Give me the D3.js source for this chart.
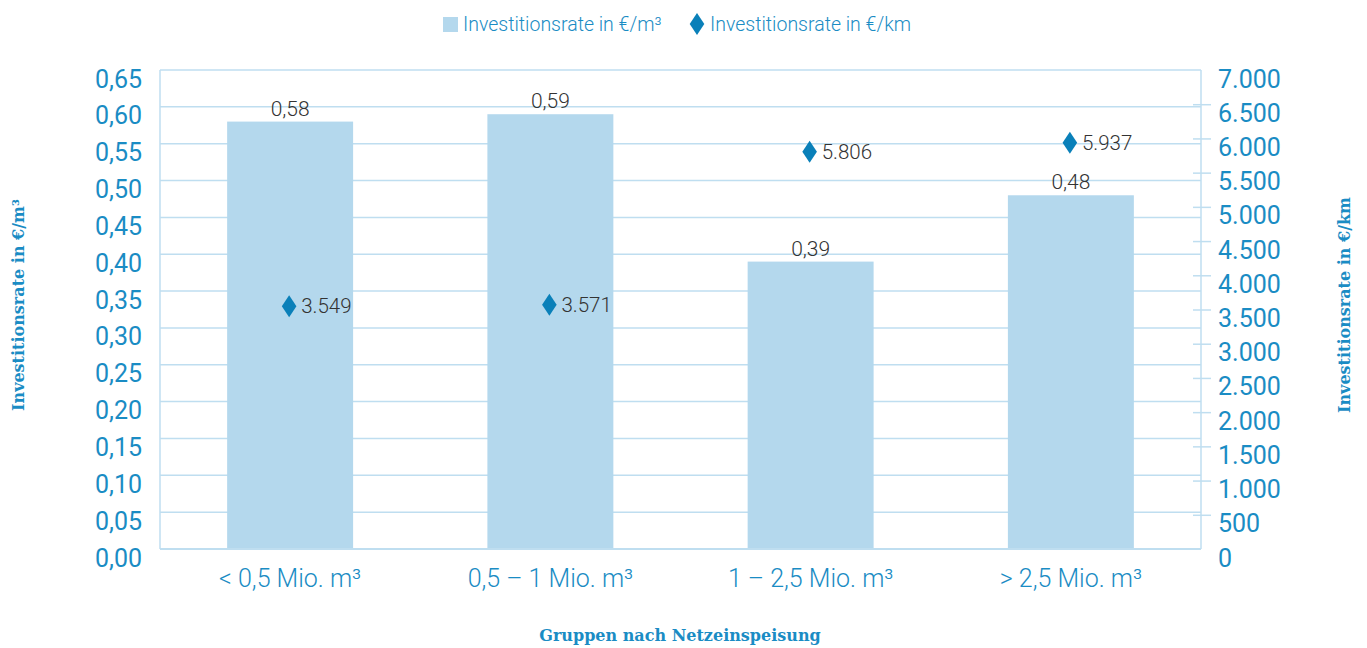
<!DOCTYPE html>
<html>
<head>
<meta charset="utf-8">
<script src="https://cdn.jsdelivr.net/npm/d3@7"></script>
<style>
  body { margin: 0; background: #fff; }
  svg { display: block; }
</style>
</head>
<body>
<div id="chart"></div>
<script>
// chart data
const groups = ["< 0,5 Mio. m³", "0,5 – 1  Mio. m³", "1 – 2,5 Mio. m³", "> 2,5 Mio. m³"];
const ratePerM3 = [0.58, 0.59, 0.39, 0.48];
const ratePerKm = [3549, 3571, 5806, 5937];
const leftTicks = [0, 0.05, 0.1, 0.15, 0.2, 0.25, 0.3, 0.35, 0.4, 0.45, 0.5, 0.55, 0.6, 0.65];
const rightTicks = [0, 500, 1000, 1500, 2000, 2500, 3000, 3500, 4000, 4500, 5000, 5500, 6000, 6500, 7000];

Chart();

function Chart() {
  const W = 1367, H = 648;
  const margin = { top: 70, right: 166, bottom: 99, left: 160 };
  const width = W - margin.left - margin.right;
  const height = H - margin.top - margin.bottom;

  const blue = "#1a8cc4";
  const barColor = "#b4d8ed";
  const diamondColor = "#0a80b9";
  const gridColor = "#bfdef0";
  const labelColor = "#333333";
  const sans = "Roboto, sans-serif";

  const svg = d3.select("#chart").append("svg")
    .attr("width", W).attr("height", H);
  const g = svg.append("g")
    .attr("transform", "translate(" + margin.left + "," + margin.top + ")");

  const x = d3.scaleBand().domain(groups).range([0, width]).paddingInner(0.516).paddingOuter(0.258);
  const yL = d3.scaleLinear().domain([0, 0.65]).range([height, 0]);
  const yR = d3.scaleLinear().domain([0, 7000]).range([height, 0]);

  const fmtL = d3.formatLocale({ decimal: ",", thousands: ".", grouping: [3] });
  const fmt2 = fmtL.format(".2f");
  const fmtK = fmtL.format(",.0f");

  // grid lines
  g.append("g").selectAll("line").data(leftTicks).join("line")
    .attr("x1", 0).attr("x2", width)
    .attr("y1", d => yL(d)).attr("y2", d => yL(d))
    .attr("stroke", gridColor).attr("stroke-width", 1.5);

  // frame sides
  g.append("line").attr("x1", 0).attr("x2", 0).attr("y1", 0).attr("y2", height)
    .attr("stroke", gridColor).attr("stroke-width", 1.5);
  g.append("line").attr("x1", width).attr("x2", width).attr("y1", 0).attr("y2", height)
    .attr("stroke", gridColor).attr("stroke-width", 1.5);

  // left axis labels
  const axL = g.append("g")
    .call(d3.axisLeft(yL).tickValues(leftTicks).tickFormat(fmt2).tickSize(0).tickPadding(18));
  axL.select(".domain").remove();
  axL.selectAll("text")
    .attr("dy", "0.68em")
    .style("font-family", sans).style("font-weight", 400)
    .style("font-size", "25px").attr("fill", blue);

  // right axis
  const axR = g.append("g").attr("transform", "translate(" + width + ",0)")
    .call(d3.axisRight(yR).tickValues(rightTicks).tickFormat(fmtK).tickSize(0).tickPadding(17));
  axR.select(".domain").remove();
  axR.selectAll("text")
    .attr("dy", "0.68em")
    .style("font-family", sans).style("font-weight", 400)
    .style("font-size", "25px").attr("fill", blue);
  axR.selectAll(".tick").filter(d => d > 0 && d < 7000).append("line")
    .attr("x1", -8).attr("x2", 10).attr("stroke", gridColor).attr("stroke-width", 1.5);

  // bars
  g.append("g").selectAll("rect").data(groups).join("rect")
    .attr("x", d => x(d)).attr("width", x.bandwidth())
    .attr("y", (d, i) => yL(ratePerM3[i]))
    .attr("height", (d, i) => height - yL(ratePerM3[i]))
    .attr("fill", barColor);

  // bar value labels
  g.append("g").selectAll("text").data(groups).join("text")
    .attr("x", d => x(d) + x.bandwidth() / 2)
    .attr("y", (d, i) => yL(ratePerM3[i]) - 6)
    .attr("text-anchor", "middle")
    .style("font-family", sans).style("font-weight", 300)
    .style("font-size", "21px").attr("fill", labelColor)
    .text((d, i) => fmt2(ratePerM3[i]));

  // diamonds
  const diamond = "M0,-11L7.3,0L0,11L-7.3,0Z";
  g.append("g").selectAll("path").data(groups).join("path")
    .attr("transform", (d, i) => "translate(" + (x(d) + x.bandwidth() / 2 - 1) + "," + yR(ratePerKm[i]) + ")")
    .attr("d", diamond).attr("fill", diamondColor);

  g.append("g").selectAll("text").data(groups).join("text")
    .attr("x", d => x(d) + x.bandwidth() / 2 + 11)
    .attr("y", (d, i) => yR(ratePerKm[i]) + 7)
    .style("font-family", sans).style("font-weight", 300)
    .style("font-size", "20.5px").attr("fill", labelColor)
    .text((d, i) => fmtK(ratePerKm[i]));

  // x axis labels
  const axX = g.append("g").attr("transform", "translate(0," + height + ")")
    .call(d3.axisBottom(x).tickSize(0).tickPadding(21));
  axX.select(".domain").remove();
  axX.selectAll("text")
    .attr("dy", "0.68em")
    .style("font-family", sans).style("font-weight", 300)
    .style("font-size", "25px").attr("fill", blue);

  // bottom line
  g.append("line").attr("x1", 0).attr("x2", width).attr("y1", height).attr("y2", height)
    .attr("stroke", gridColor).attr("stroke-width", 2);

  // axis titles
  const titleFont = "'DejaVu Serif', serif";
  svg.append("text")
    .attr("transform", "translate(24,305) rotate(-90)")
    .attr("text-anchor", "middle")
    .style("font-family", titleFont).style("font-weight", "bold").style("font-size", "16px")
    .attr("fill", blue).text("Investitionsrate in €/m³");
  svg.append("text")
    .attr("transform", "translate(1350,305) rotate(-90)")
    .attr("text-anchor", "middle")
    .style("font-family", titleFont).style("font-weight", "bold").style("font-size", "16px")
    .attr("fill", blue).text("Investitionsrate in €/km");
  svg.append("text")
    .attr("x", 680).attr("y", 641)
    .attr("text-anchor", "middle")
    .style("font-family", titleFont).style("font-weight", "bold").style("font-size", "16px")
    .attr("fill", blue).text("Gruppen nach Netzeinspeisung");

  // legend
  const legend = svg.append("g");
  legend.append("rect").attr("x", 443).attr("y", 17).attr("width", 15).attr("height", 15)
    .attr("fill", barColor);
  legend.append("text").attr("x", 463).attr("y", 31)
    .style("font-family", sans).style("font-size", "19.5px").style("font-weight", 300)
    .attr("fill", blue).text("Investitionsrate in €/m³");
  legend.append("path").attr("transform", "translate(697,24)").attr("d", diamond)
    .attr("fill", diamondColor);
  legend.append("text").attr("x", 710).attr("y", 31)
    .style("font-family", sans).style("font-size", "19.5px").style("font-weight", 300)
    .attr("fill", blue).text("Investitionsrate in €/km");
}
</script>
</body>
</html>
